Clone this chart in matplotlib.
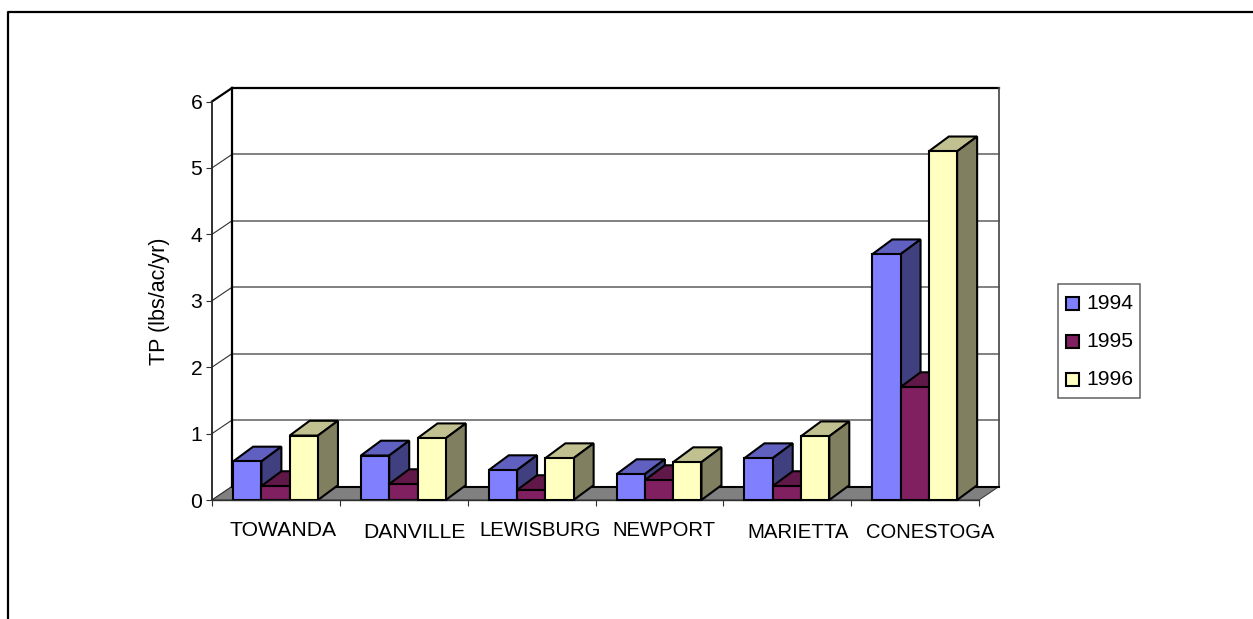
"""
各站点总磷负荷三维柱状图
"""

import matplotlib
matplotlib.use('Agg')
import matplotlib.pyplot as plt
from matplotlib.lines import Line2D
from matplotlib.patches import Polygon, Rectangle

plt.rcParams['font.family'] = ['Liberation Sans', 'DejaVu Sans']

FIG_W, FIG_H = 1253, 619

stations = ['TOWANDA', 'DANVILLE', 'LEWISBURG', 'NEWPORT', 'MARIETTA', 'CONESTOGA']
years = ['1994', '1995', '1996']
tp_1994 = [0.58, 0.67, 0.45, 0.39, 0.63, 3.70]
tp_1995 = [0.21, 0.24, 0.15, 0.30, 0.21, 1.70]
tp_1996 = [0.97, 0.93, 0.63, 0.57, 0.96, 5.25]
y_ticks = [0, 1, 2, 3, 4, 5, 6]

# 每个系列的 正面/顶面/侧面 颜色
series_colors = [
    ('#8080FF', '#6060C0', '#404080'),
    ('#802060', '#601848', '#401030'),
    ('#FFFFC0', '#C0C090', '#808060'),
]

# 标签相对组中心的偏移 (像素)
label_dx = [7, 11, 8, 5, 11, 15]
label_y = [530, 533, 531, 531, 533, 533]
label_size = [15.2, 15.2, 14.6, 14.6, 14.7, 14.5]

# 前平面在画布上的位置 (像素)
LEFT, RIGHT, BOTTOM, TOP = 212, 979, 500, 101.5
# 透视深度 (数据单位)
DX = 20 / ((RIGHT - LEFT) / len(stations))
DY = 13.5 / ((BOTTOM - TOP) / 6)
BAR_DY = 14.8 / ((BOTTOM - TOP) / 6)
BAR_W = 0.2213
GAP = 0.165


def add_poly(ax, pts, **kwargs):
    """添加不裁剪的多边形"""
    ax.add_patch(Polygon(pts, closed=True, clip_on=False, **kwargs))


fig = plt.figure(figsize=(FIG_W / 100, FIG_H / 100), dpi=100)

# 外框只有上边和左边
fig.add_artist(Line2D([8.0 / FIG_W, 8.0 / FIG_W, 1.0], [0.0, 1 - 11.5 / FIG_H, 1 - 11.5 / FIG_H],
                      transform=fig.transFigure, color='black', linewidth=1.6))

ax = fig.add_axes([LEFT / FIG_W, 1 - BOTTOM / FIG_H, (RIGHT - LEFT) / FIG_W, (BOTTOM - TOP) / FIG_H])
ax.set_xlim(0, len(stations))
ax.set_ylim(0, 6)
ax.patch.set_visible(False)

for s in ['top', 'right']:
    ax.spines[s].set_visible(False)
ax.spines['left'].set_linewidth(1.3)
ax.spines['left'].set_color('#202020')
ax.spines['bottom'].set_linewidth(1.0)
ax.spines['bottom'].set_color('#303030')
ax.spines['left'].set_zorder(1)

# 背景墙网格线
n = len(stations)
for v in y_ticks[1:-1]:
    ax.plot([DX, n + DX], [v + DY, v + DY], color='#808080', lw=1.4, clip_on=False, zorder=1)
for v in y_ticks[:-1]:
    ax.plot([0, DX], [v, v + DY], color='#303030', lw=0.8, clip_on=False, zorder=1)
ax.plot([0, DX], [6, 6 + DY], color='black', lw=1.6, clip_on=False, zorder=1)
ax.plot([DX, DX], [DY, 6 + DY], color='black', lw=1.6, clip_on=False, zorder=1)
ax.plot([DX, n + DX], [6 + DY, 6 + DY], color='black', lw=1.6, clip_on=False, zorder=1)
ax.plot([n + DX, n + DX], [DY, 6 + DY], color='#505050', lw=1.3, clip_on=False, zorder=1)

# 底面
add_poly(ax, [(0, 0), (n, 0), (n + DX, DY), (DX, DY)], facecolor='#808080', edgecolor='#303030', lw=0.7, zorder=1.5)
ax.plot([DX, n + DX], [DY, DY], color='black', lw=1.5, clip_on=False, zorder=1.6)

# 柱子: 按站点、系列依次绘制, 后画的遮挡先画的
z = 2.0
for i in range(n):
    for k, values in enumerate([tp_1994, tp_1995, tp_1996]):
        v = values[i]
        x0 = i + GAP + k * BAR_W
        x1 = x0 + BAR_W
        front, top, side = series_colors[k]
        ax.bar(x0, v, width=BAR_W, align='edge', color=front, edgecolor='black', linewidth=1.5, zorder=z + 0.02, clip_on=False)
        add_poly(ax, [(x0, v), (x1, v), (x1 + DX, v + BAR_DY), (x0 + DX, v + BAR_DY)],
                 facecolor=top, edgecolor='black', lw=1.5, zorder=z)
        add_poly(ax, [(x1, 0), (x1 + DX, BAR_DY), (x1 + DX, v + BAR_DY), (x1, v)],
                 facecolor=side, edgecolor='black', lw=1.5, zorder=z)
        z += 0.1

# 坐标轴刻度
ax.set_xticks(range(n + 1))
ax.set_xticklabels([])
ax.tick_params(axis='x', length=4, width=0.8, color='#303030')
ax.set_yticks(y_ticks)
ax.tick_params(axis='y', length=4, width=0.8, color='#303030', pad=3, labelsize=15.2)

ax.text(160 / FIG_W, 1 - 301.5 / FIG_H, 'TP (lbs/ac/yr)', transform=fig.transFigure, rotation=90,
        ha='center', va='center', fontsize=15.5)

for i, name in enumerate(stations):
    cx = LEFT + (i + 0.5) * (RIGHT - LEFT) / n + label_dx[i]
    fig.text(cx / FIG_W, 1 - label_y[i] / FIG_H, name, ha='center', va='center', fontsize=label_size[i])

# 图例
fig.add_artist(Rectangle((1057.5 / FIG_W, 1 - 398 / FIG_H), 82 / FIG_W, 114 / FIG_H, transform=fig.transFigure,
                         facecolor='white', edgecolor='#606060', linewidth=1.1))
for k, year in enumerate(years):
    cy = 303.5 + k * 38
    fig.add_artist(Rectangle((1065.5 / FIG_W, 1 - (cy + 6.5) / FIG_H), 13 / FIG_W, 13 / FIG_H, transform=fig.transFigure,
                             facecolor=series_colors[k][0], edgecolor='black', linewidth=1.5))
    fig.text(1086.5 / FIG_W, 1 - cy / FIG_H, year, ha='left', va='center', fontsize=15.2)

fig.savefig('out.png', dpi=100)
